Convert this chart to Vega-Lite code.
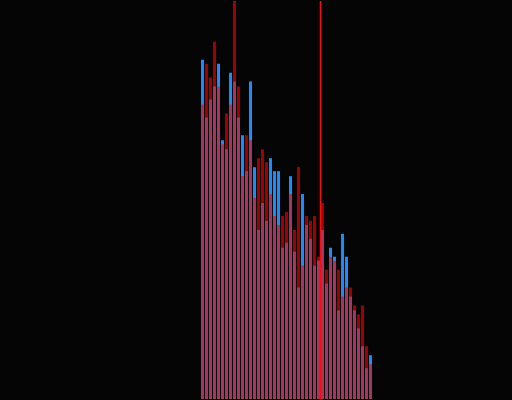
{
  "$schema": "https://vega.github.io/schema/vega-lite/v6.json",
  "width": 512,
  "height": 400,
  "autosize": {"type": "fit", "contains": "padding"},
  "padding": 0,
  "background": "#050505",
  "config": {"view": {"stroke": null}},
  "datasets": {
    "bins": [
      {"bin_start": 0, "bin_end": 1, "a": 341, "b": 296},
      {"bin_start": 1, "bin_end": 2, "a": 283, "b": 337},
      {"bin_start": 2, "bin_end": 3, "a": 301, "b": 323},
      {"bin_start": 3, "bin_end": 4, "a": 314, "b": 359},
      {"bin_start": 4, "bin_end": 5, "a": 337, "b": 314},
      {"bin_start": 5, "bin_end": 6, "a": 260, "b": 256},
      {"bin_start": 6, "bin_end": 7, "a": 251, "b": 287},
      {"bin_start": 7, "bin_end": 8, "a": 328, "b": 296},
      {"bin_start": 8, "bin_end": 9, "a": 319, "b": 400},
      {"bin_start": 9, "bin_end": 10, "a": 283, "b": 314},
      {"bin_start": 10, "bin_end": 11, "a": 265, "b": 224},
      {"bin_start": 11, "bin_end": 12, "a": 229, "b": 265},
      {"bin_start": 12, "bin_end": 13, "a": 319, "b": 260},
      {"bin_start": 13, "bin_end": 14, "a": 233, "b": 202},
      {"bin_start": 14, "bin_end": 15, "a": 170, "b": 242},
      {"bin_start": 15, "bin_end": 16, "a": 197, "b": 251},
      {"bin_start": 16, "bin_end": 17, "a": 179, "b": 238},
      {"bin_start": 17, "bin_end": 18, "a": 242, "b": 206},
      {"bin_start": 18, "bin_end": 19, "a": 229, "b": 184},
      {"bin_start": 19, "bin_end": 20, "a": 229, "b": 175},
      {"bin_start": 20, "bin_end": 21, "a": 152, "b": 184},
      {"bin_start": 21, "bin_end": 22, "a": 157, "b": 188},
      {"bin_start": 22, "bin_end": 23, "a": 224, "b": 206},
      {"bin_start": 23, "bin_end": 24, "a": 148, "b": 170},
      {"bin_start": 24, "bin_end": 25, "a": 112, "b": 233},
      {"bin_start": 25, "bin_end": 26, "a": 206, "b": 134},
      {"bin_start": 26, "bin_end": 27, "a": 175, "b": 184},
      {"bin_start": 27, "bin_end": 28, "a": 161, "b": 179},
      {"bin_start": 28, "bin_end": 29, "a": 134, "b": 184},
      {"bin_start": 29, "bin_end": 30, "a": 139, "b": 143},
      {"bin_start": 30, "bin_end": 31, "a": 170, "b": 197},
      {"bin_start": 31, "bin_end": 32, "a": 116, "b": 130},
      {"bin_start": 32, "bin_end": 33, "a": 152, "b": 143},
      {"bin_start": 33, "bin_end": 34, "a": 143, "b": 139},
      {"bin_start": 34, "bin_end": 35, "a": 89, "b": 130},
      {"bin_start": 35, "bin_end": 36, "a": 166, "b": 103},
      {"bin_start": 36, "bin_end": 37, "a": 143, "b": 112},
      {"bin_start": 37, "bin_end": 38, "a": 103, "b": 112},
      {"bin_start": 38, "bin_end": 39, "a": 89, "b": 94},
      {"bin_start": 39, "bin_end": 40, "a": 71, "b": 85},
      {"bin_start": 40, "bin_end": 41, "a": 53, "b": 94},
      {"bin_start": 41, "bin_end": 42, "a": 31, "b": 53},
      {"bin_start": 42, "bin_end": 43, "a": 44, "b": 35}
    ],
    "marker": [{"value": 30.125}]
  },
  "layer": [
    {
      "data": {"name": "bins"},
      "mark": {"type": "bar", "color": "#1a8cff", "clip": true},
      "encoding": {
        "x": {"field": "bin_start", "type": "quantitative", "bin": {"binned": true}, "scale": {"domain": [-50, 78], "nice": false, "zero": false}, "axis": null},
        "x2": {"field": "bin_end"},
        "y": {"field": "a", "type": "quantitative", "scale": {"domain": [0, 400], "nice": false}, "axis": null}
      }
    },
    {
      "data": {"name": "bins"},
      "mark": {"type": "bar", "color": "#ff0000", "opacity": 0.62, "clip": true},
      "encoding": {
        "x": {"field": "bin_start", "type": "quantitative", "bin": {"binned": true}},
        "x2": {"field": "bin_end"},
        "y": {"field": "b", "type": "quantitative"}
      }
    },
    {
      "data": {"name": "marker"},
      "mark": {"type": "rule", "color": "#ff0a0a", "strokeWidth": 1.5},
      "encoding": {
        "x": {"field": "value", "type": "quantitative"}
      }
    }
  ]
}
